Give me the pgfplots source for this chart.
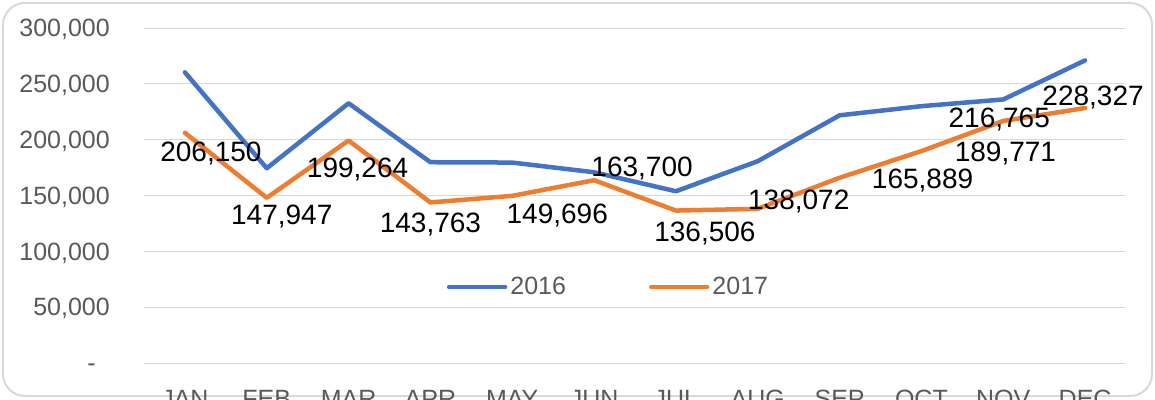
\documentclass[border=0pt]{standalone}
\usepackage{fontspec}
\setmainfont{Liberation Sans}
\usepackage{pgfplots}
\usepackage{pgfplotstable}
\pgfplotsset{compat=1.18}
\definecolor{blueA}{HTML}{4472C4}
\definecolor{orangeB}{HTML}{ED7D31}
\definecolor{gridgray}{HTML}{D9D9D9}
\definecolor{ticktext}{HTML}{595959}
\definecolor{framegray}{HTML}{D9D9D9}

\pgfplotstableread{
x y
0 260300
1 174400
2 232600
3 179800
4 179500
5 170800
6 153800
7 180700
8 221800
9 230000
10 236000
11 271000
}\dataA

\pgfplotstableread{
x y lbl dx dy
0 206150 206,150 26 -18.5
1 147947 147,947 15 -16.5
2 199264 199,264 9 -27
3 143763 143,763 0 -20
4 149696 149,696 45 -17.5
5 163700 163,700 48 13
6 136506 136,506 29 -21.5
7 138072 138,072 41 9
8 165889 165,889 83 -1
9 189771 189,771 84 -1
10 216765 216,765 -4 3
11 228327 228,327 8 12.5
}\dataB

\begin{document}
\begin{tikzpicture}
\path[use as bounding box] (-144pt,-36pt) rectangle (1011pt,363pt);
\draw[framegray, line width=2pt, rounded corners=22pt] (-141pt,-33pt) rectangle (1008pt,360pt);
\begin{axis}[
  at={(0pt,0pt)}, anchor=south west,
  scale only axis,
  width=982pt, height=335pt,
  xmin=-0.5, xmax=11.5,
  ymin=0, ymax=300000,
  axis line style={draw=none},
  major tick length=0pt,
  xtick={0,1,...,11},
  xticklabels={JAN,FEB,MAR,APR,MAY,JUN,JUL,AUG,SEP,OCT,NOV,DEC},
  ytick={0,50000,100000,150000,200000,250000,300000},
  yticklabels={{\vphantom{0}-\rule{14pt}{0pt}},{50,000},{100,000},{150,000},{200,000},{250,000},{300,000}},
  scaled y ticks=false,
  ymajorgrids,
  grid style={gridgray, line width=1pt},
  tick label style={font=\fontsize{25}{30}\selectfont, text=ticktext},
  yticklabel style={anchor=east, inner sep=0pt, xshift=-34pt, text depth=0pt},
  xticklabel style={anchor=north, inner sep=0pt, yshift=-27pt},
  legend columns=2,
  legend style={at={(rel axis cs:0.4735,0.227)}, anchor=center, draw=none, fill=none,
    font=\fontsize{25}{30}\selectfont, text=ticktext,
    /tikz/every even column/.append style={column sep=80pt},
    nodes={inner sep=3pt}},
  legend image code/.code={\draw[#1] (0pt,0pt) -- (56pt,0pt);},
  clip=false,
]
\addplot[blueA, line width=4.5pt, line join=round, line cap=round] table[x=x,y=y] {\dataA};
\addlegendentry{2016}
\addplot[orangeB, line width=4.5pt, line join=round, line cap=round] table[x=x,y=y] {\dataB};
\addlegendentry{2017}
\addplot[draw=none, forget plot,
  nodes near coords,
  point meta=explicit symbolic,
  visualization depends on={\thisrow{dx} \as \dx},
  visualization depends on={\thisrow{dy} \as \dy},
  every node near coord/.append style={anchor=center, xshift=\dx pt, yshift=\dy pt,
    font=\fontsize{28}{32}\selectfont, text=black, text depth=0pt, inner sep=0pt},
] table[x=x,y=y,meta=lbl] {\dataB};
\end{axis}
\end{tikzpicture}
\end{document}
